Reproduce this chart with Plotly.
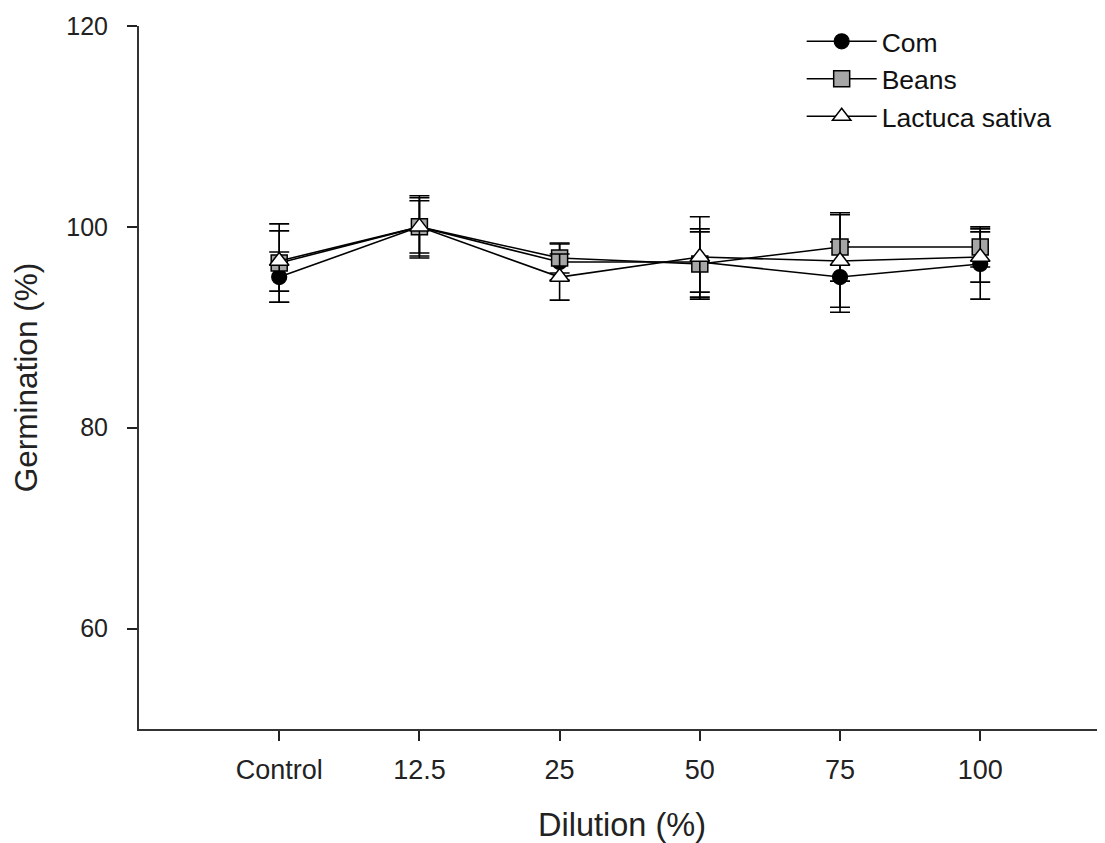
import plotly.graph_objects as go

categories = ["Control", "12.5", "25", "50", "75", "100"]
corn = [95.0, 100.0, 96.5, 96.5, 95.0, 96.3]
corn_err = [2.5, 3.1, 1.8, 3.0, 3.5, 3.5]
beans = [96.4, 100.0, 96.9, 96.3, 98.0, 98.0]
beans_err = [3.9, 2.9, 1.5, 3.5, 3.4, 2.0]
lactuca = [96.6, 100.0, 95.0, 97.0, 96.6, 97.0]
lactuca_err = [3.0, 2.6, 2.3, 4.0, 4.6, 2.5]
y_ticks = [60, 80, 100, 120]

xpos = list(range(len(categories)))
FONT = "Liberation Sans, Arial, sans-serif"

fig = go.Figure()
series = [
    ("Com", corn, corn_err, dict(symbol="circle", size=15, color="black", line=dict(color="black", width=1.2))),
    ("Beans", beans, beans_err, dict(symbol="square", size=16, color="#a6a6a6", line=dict(color="black", width=1.5))),
    ("Lactuca sativa", lactuca, lactuca_err, dict(symbol="triangle-up", size=17, color="white", line=dict(color="black", width=1.5))),
]
for name, vals, errs, marker in series:
    fig.add_trace(go.Scatter(
        x=xpos, y=vals, name=name, mode="lines+markers",
        line=dict(color="black", width=1.6),
        marker=marker,
        error_y=dict(type="data", array=errs, visible=True, color="black", thickness=1.6, width=10),
    ))

# figure sits at an 8px body offset in the page
fig.update_layout(
    width=1097, height=835,
    margin=dict(l=131, r=0, t=18, b=114),
    paper_bgcolor="white", plot_bgcolor="white",
    font=dict(family=FONT, size=25, color="#222"),
    showlegend=True,
    legend=dict(x=0.686, y=1.012, xanchor="left", yanchor="top",
                bgcolor="rgba(0,0,0,0)", font=dict(size=26.5, color="#111"),
                itemwidth=70, tracegroupgap=0),
    xaxis=dict(
        range=[-1, 5.89], tickmode="array", tickvals=xpos, ticktext=categories,
        showline=True, linecolor="#333", linewidth=2, ticks="outside", ticklen=10,
        tickwidth=2, tickcolor="#222", showgrid=False, zeroline=False,
        ticklabelstandoff=6,
        tickfont=dict(size=27, color="#222"),
        title=dict(text="Dilution (%)", font=dict(size=32.5, color="#222"), standoff=30),
    ),
    yaxis=dict(
        range=[50, 120], tickmode="array", tickvals=y_ticks,
        showline=True, linecolor="#333", linewidth=2, ticks="outside", ticklen=10,
        tickwidth=2, tickcolor="#222", showgrid=False, zeroline=False,
        ticklabelstandoff=14,
        tickfont=dict(size=25, color="#222"),
        title=dict(text="Germination (%)", font=dict(size=31.5, color="#222"), standoff=23),
    ),
)

fig.write_html("out.html")
